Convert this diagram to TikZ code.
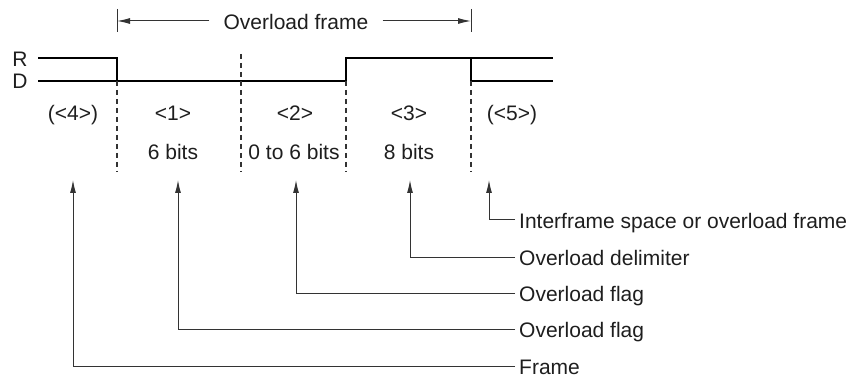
\documentclass[tikz,border=0pt]{standalone}
\usepackage{fontspec}
\setmainfont{Liberation Sans}
\usetikzlibrary{arrows.meta}
\definecolor{txt}{HTML}{1E1E1E}
\definecolor{ln}{HTML}{333333}
\begin{document}
\begin{tikzpicture}[x=1pt,y=-1pt,
  lbl/.style={font=\fontsize{21}{24}\selectfont, text=txt, inner sep=0pt},
  mid/.style={lbl, text height=17pt, text depth=0pt, inner xsep=4pt},
  sig/.style={line width=2.4pt, black},
  grid/.style={line width=1.1pt, ln, dash pattern=on 5pt off 4pt},
  ptr/.style={line width=1pt, ln, -{Latex[length=13pt,width=6pt]}},
  tick/.style={line width=1pt, ln}]
\useasboundingbox (0,0) rectangle (850,379);
% top span
\node[mid, inner xsep=14pt] (of) at (296,21) {Overload frame};
\coordinate (tl) at (117,21);
\coordinate (tr) at (471,21);
\draw[tick] (117,9) -- (117,32);
\draw[tick] (471,9) -- (471,32);
\draw[ptr] (of.west) -- (tl);
\draw[ptr] (of.east) -- (tr);
% R / D labels
\node[lbl] (R) at (20,59) {R};
\node[lbl] (D) at (20,81) {D};
% signal
\draw[sig] (38,58) -- (117,58) -- (117,81);
\draw[sig] (38,81) -- (346,81) -- (346,58) -- (553,58);
\draw[sig] (471,58) -- (471,81) -- (553,81);
% dashed separators
\draw[grid] (117,81) -- (117,172);
\draw[grid] (241,54) -- (241,172);
\draw[grid] (346,81) -- (346,172);
\draw[grid] (471,81) -- (471,172);
% field labels
\node[lbl, anchor=base] (f4) at (73,121) {(<4>)};
\node[lbl, anchor=base] (f1) at (173,121) {<1>};
\node[lbl, anchor=base] (f2) at (295,121) {<2>};
\node[lbl, anchor=base] (f3) at (409,121) {<3>};
\node[lbl, anchor=base] (f5) at (512,121) {(<5>)};
\node[lbl, anchor=base] (b1) at (173,160) {6 bits};
\node[lbl, anchor=base] (b2) at (294,160) {0 to 6 bits};
\node[lbl, anchor=base] (b3) at (409,160) {8 bits};
% pointer targets
\coordinate (c4) at (73,180);
\coordinate (c1) at (178,180);
\coordinate (c2) at (296,180);
\coordinate (c3) at (410,180);
\coordinate (c5) at (489,180);
% descriptions
\node[mid, anchor=west] (d5) at (515,220) {Interframe space or overload frame};
\node[mid, anchor=west] (d3) at (515,257) {Overload delimiter};
\node[mid, anchor=west] (d2) at (515,293) {Overload flag};
\node[mid, anchor=west] (d1) at (515,329) {Overload flag};
\node[mid, anchor=west] (d4) at (515,366) {Frame};
\draw[ptr] (d5.west) -| (c5);
\draw[ptr] (d3.west) -| (c3);
\draw[ptr] (d2.west) -| (c2);
\draw[ptr] (d1.west) -| (c1);
\draw[ptr] (d4.west) -| (c4);
\end{tikzpicture}
\end{document}
